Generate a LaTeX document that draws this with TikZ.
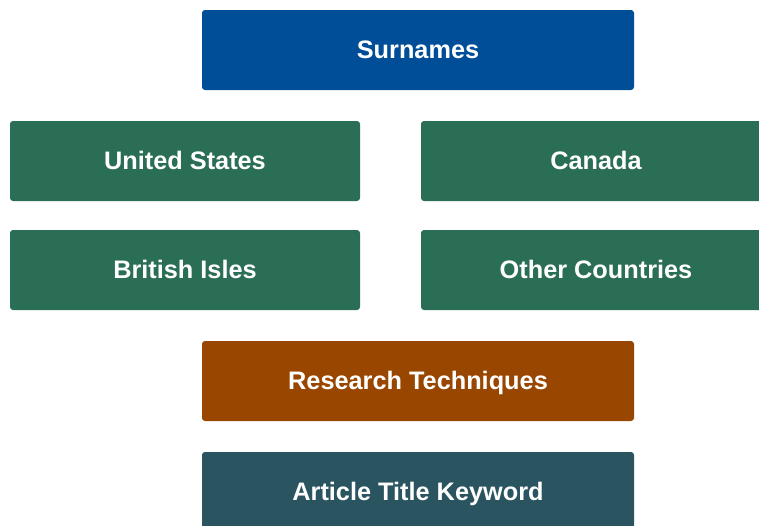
\documentclass[tikz,border=0pt]{standalone}
\usepackage{fontspec}
\setmainfont{Liberation Sans}
\definecolor{cblue}{HTML}{004E98}
\definecolor{cgreen}{HTML}{2A6E55}
\definecolor{corange}{HTML}{994700}
\definecolor{cteal}{HTML}{2A5460}
\tikzset{
  box/.style={draw=none, text=white, inner sep=0pt, anchor=base,
    font=\fontsize{25.3}{30}\selectfont\bfseries},
  panel/.style={rounded corners=3pt},
}
\begin{document}
\begin{tikzpicture}[x=1pt,y=-1pt]
\useasboundingbox (0,0) rectangle (759,525);
\begin{scope}
\clip (0,0) rectangle (759,525);
\fill[cblue, panel] (202,10) rectangle (634,90);
\node[box] (sur) at (418,58) {Surnames};
\fill[cgreen, panel] (10,121) rectangle (360,201);
\node[box] (us) at (185,169) {United States};
\fill[cgreen, panel] (421,121) rectangle (771,201);
\node[box] (ca) at (596,169) {Canada};
\fill[cgreen, panel] (10,230) rectangle (360,310);
\node[box] (bi) at (185,278) {British Isles};
\fill[cgreen, panel] (421,230) rectangle (771,310);
\node[box] (oc) at (596,278) {Other Countries};
\fill[corange, panel] (202,341) rectangle (634,421);
\node[box] (rt) at (418,389) {Research Techniques};
\fill[cteal, panel] (202,452) rectangle (634,532);
\node[box] (at) at (418,500) {Article Title Keyword};
\end{scope}
\end{tikzpicture}
\end{document}
